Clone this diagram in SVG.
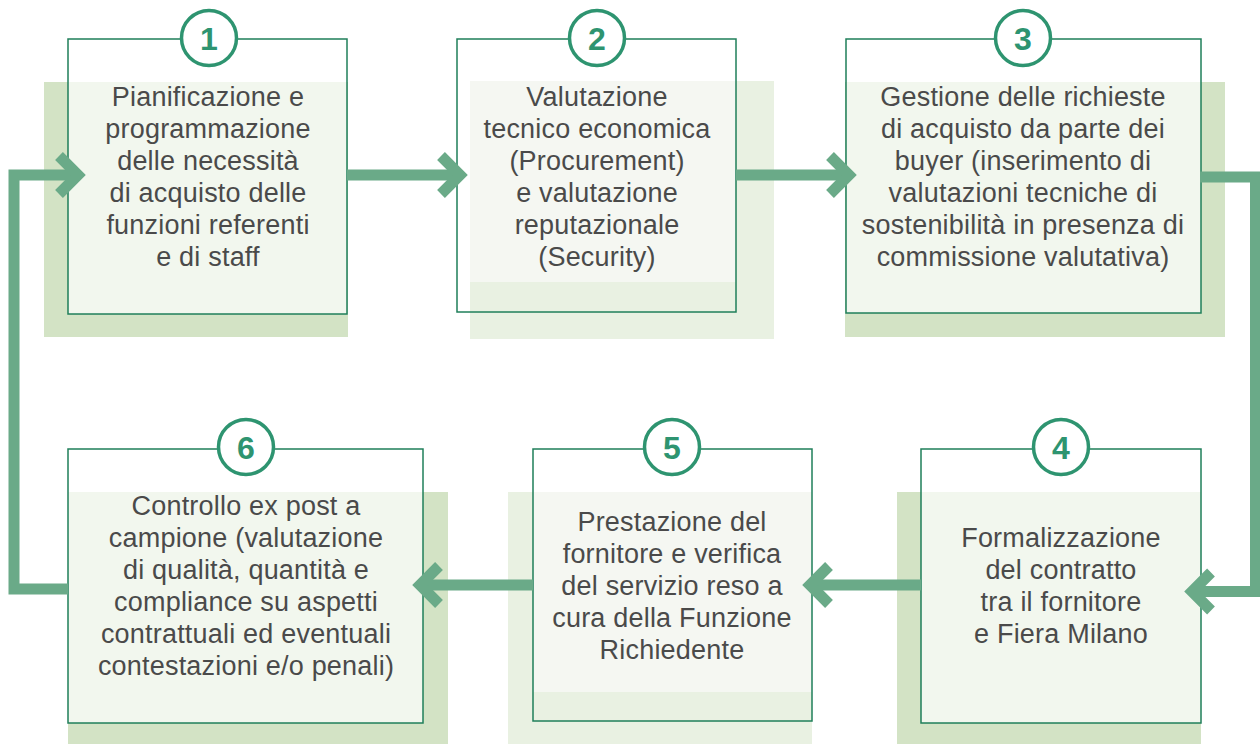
<svg xmlns="http://www.w3.org/2000/svg" width="1260" height="744" viewBox="0 0 1260 744">
<style>
.shd{fill:#d3e3c5}
.shl{fill:#e9f1e2}
.box{fill:#ffffff;fill-opacity:0.7;stroke:#1f7f5a;stroke-width:1.5}
.boxo{fill:none;stroke:#1f7f5a;stroke-width:1.5}
.pan{fill:#f5f7f2}
.num{fill:#ffffff;stroke:#2e9470;stroke-width:3.5}
.nt{font-family:"Liberation Sans",Arial,sans-serif;font-weight:bold;font-size:32px;fill:#2e9470;text-anchor:middle}
.t{font-family:"Liberation Sans",Arial,sans-serif;font-size:27px;letter-spacing:0.2px;fill:#4a4a4a;text-anchor:middle}
.c{fill:none;stroke:#6aaa88;stroke-width:11;stroke-linejoin:miter;stroke-linecap:butt}
</style>
<rect width="1260" height="744" fill="#ffffff"/>

<g id="node1">
<rect class="shd" x="44" y="82" width="304" height="255"/>
<rect class="box" x="68" y="39" width="279" height="275"/>
<circle class="num" cx="209" cy="38" r="27.5"/>
<text class="nt" x="209" y="49.5">1</text>
<text class="t"><tspan x="208" y="106">Pianificazione e</tspan><tspan x="208" y="138">programmazione</tspan><tspan x="208" y="170">delle necessità</tspan><tspan x="208" y="202">di acquisto delle</tspan><tspan x="208" y="234">funzioni referenti</tspan><tspan x="208" y="266">e di staff</tspan></text>
</g>

<g id="node2">
<rect class="shl" x="470" y="81" width="304" height="258"/>
<rect class="pan" x="470" y="81" width="266" height="201"/>
<rect class="boxo" x="457" y="39" width="279" height="273"/>
<circle class="num" cx="597" cy="38" r="27.5"/>
<text class="nt" x="597" y="49.5">2</text>
<text class="t"><tspan x="597" y="106">Valutazione</tspan><tspan x="597" y="138">tecnico economica</tspan><tspan x="597" y="170">(Procurement)</tspan><tspan x="597" y="202">e valutazione</tspan><tspan x="597" y="234">reputazionale</tspan><tspan x="597" y="266">(Security)</tspan></text>
</g>

<g id="node3">
<rect class="shd" x="845" y="82" width="380" height="255"/>
<rect class="box" x="846" y="39" width="355" height="274"/>
<circle class="num" cx="1023" cy="38" r="27.5"/>
<text class="nt" x="1023" y="49.5">3</text>
<text class="t"><tspan x="1023" y="106">Gestione delle richieste</tspan><tspan x="1023" y="138">di acquisto da parte dei</tspan><tspan x="1023" y="170">buyer (inserimento di</tspan><tspan x="1023" y="202">valutazioni tecniche di</tspan><tspan x="1023" y="234">sostenibilità in presenza di</tspan><tspan x="1023" y="266">commissione valutativa)</tspan></text>
</g>

<g id="node4">
<rect class="shd" x="897" y="492" width="304" height="252"/>
<rect class="box" x="921" y="449" width="280" height="274"/>
<circle class="num" cx="1061" cy="447" r="27.5"/>
<text class="nt" x="1061" y="458.5">4</text>
<text class="t"><tspan x="1061" y="547">Formalizzazione</tspan><tspan x="1061" y="579">del contratto</tspan><tspan x="1061" y="611">tra il fornitore</tspan><tspan x="1061" y="643">e Fiera Milano</tspan></text>
</g>

<g id="node5">
<rect class="shl" x="508" y="492" width="304" height="252"/>
<rect class="pan" x="533" y="492" width="279" height="200"/>
<rect class="boxo" x="533" y="449" width="279" height="272"/>
<circle class="num" cx="672" cy="447" r="27.5"/>
<text class="nt" x="672" y="458.5">5</text>
<text class="t"><tspan x="672" y="531">Prestazione del</tspan><tspan x="672" y="563">fornitore e verifica</tspan><tspan x="672" y="595">del servizio reso a</tspan><tspan x="672" y="627">cura della Funzione</tspan><tspan x="672" y="659">Richiedente</tspan></text>
</g>

<g id="node6">
<rect class="shd" x="68" y="492" width="380" height="252"/>
<rect class="box" x="68" y="449" width="355" height="274"/>
<circle class="num" cx="246" cy="447" r="27.5"/>
<text class="nt" x="246" y="458.5">6</text>
<text class="t"><tspan x="246" y="515">Controllo ex post a</tspan><tspan x="246" y="547">campione (valutazione</tspan><tspan x="246" y="579">di qualità, quantità e</tspan><tspan x="246" y="611">compliance su aspetti</tspan><tspan x="246" y="643">contrattuali ed eventuali</tspan><tspan x="246" y="675">contestazioni e/o penali)</tspan></text>
</g>

<g id="connectors">
<path class="c" d="M68 589 H14 V175 H78"/>
<polyline class="c" points="59,156 78,175 59,194"/>
<path class="c" d="M347 175 H460"/>
<polyline class="c" points="441,156 460,175 441,194"/>
<path class="c" d="M736 175 H849"/>
<polyline class="c" points="830,156 849,175 830,194"/>
<path class="c" d="M1200 177 H1255.5 V591.5 H1192"/>
<polyline class="c" points="1211,572.5 1192,591.5 1211,610.5"/>
<path class="c" d="M921 585 H810"/>
<polyline class="c" points="829,566 810,585 829,604"/>
<path class="c" d="M533 585 H420"/>
<polyline class="c" points="439,566 420,585 439,604"/>
</g>
</svg>
